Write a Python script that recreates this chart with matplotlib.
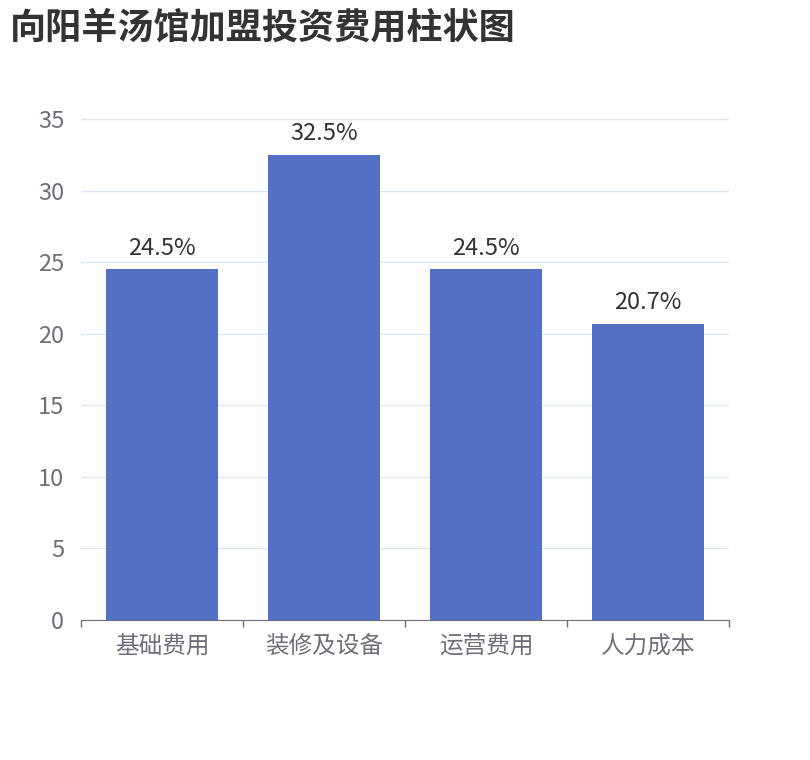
import matplotlib.pyplot as plt

plt.rcParams['font.family'] = ['Noto Sans CJK SC', 'DejaVu Sans']

# data
categories = ['基础费用', '装修及设备', '运营费用', '人力成本']
values = [24.5, 32.5, 24.5, 20.7]
labels = ['24.5%', '32.5%', '24.5%', '20.7%']
yticks = [0, 5, 10, 15, 20, 25, 30, 35]

W, H = 810, 760
fig = plt.figure(figsize=(W / 100, H / 100), dpi=100)
ax = fig.add_axes([81 / W, (H - 620) / H, 648 / W, (620 - 119) / H])

x = list(range(len(categories)))
bars = ax.bar(x, values, width=0.69, color='#5470C6', zorder=3)

for b, lab in zip(bars, labels):
    ax.annotate(lab, (b.get_x() + b.get_width() / 2, b.get_height()),
                xytext=(0, 7), textcoords='offset points',
                ha='center', va='bottom', fontsize=17, color='#333333')

ax.set_xlim(-0.5, len(categories) - 0.5)
ax.set_ylim(0, 35)
ax.set_yticks(yticks)
ax.set_yticklabels([str(v) for v in yticks])
ax.yaxis.grid(True, color='#E0E6F1', linewidth=1, zorder=0)
ax.tick_params(axis='y', length=0, pad=12, labelsize=17, labelcolor='#6E7079')

# category ticks on band edges
ax.set_xticks([i - 0.5 for i in range(len(categories) + 1)])
ax.set_xticklabels([])
ax.set_xticks(x, minor=True)
ax.set_xticklabels(categories, minor=True)
ax.tick_params(axis='x', which='major', length=5, color='#6E7079', width=1)
ax.tick_params(axis='x', which='minor', length=0, pad=11, labelsize=17, labelcolor='#6E7079')

for s in ['top', 'right', 'left']:
    ax.spines[s].set_visible(False)
ax.spines['bottom'].set_color('#6E7079')
ax.set_axisbelow(True)

fig.text(10 / W, 1 - 28 / H, '向阳羊汤馆加盟投资费用柱状图', fontsize=26,
         fontweight='bold', color='#333333', va='center', ha='left')

fig.savefig('out.png', dpi=100)
